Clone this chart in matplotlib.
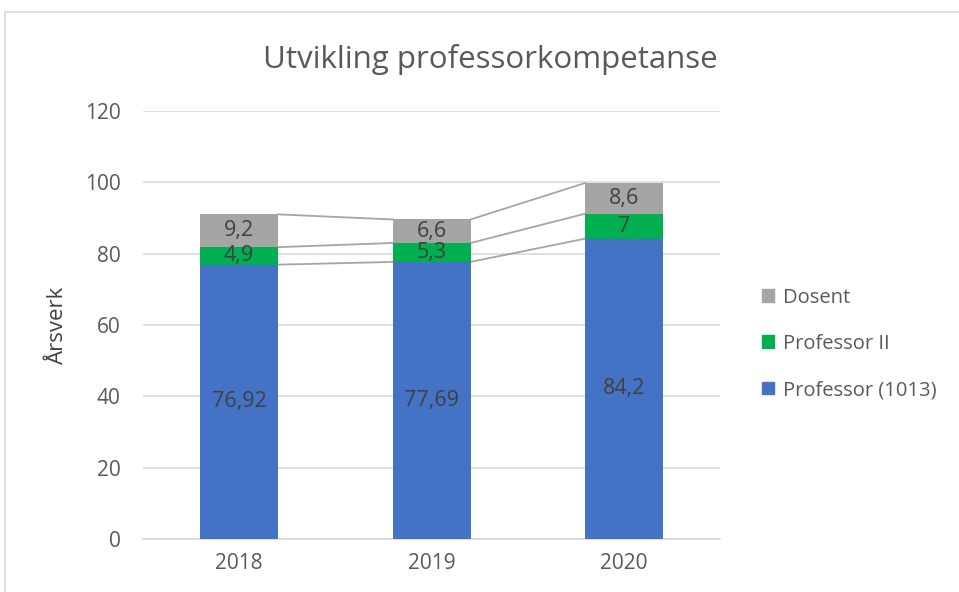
import numpy as np
import matplotlib.pyplot as plt
from matplotlib.patches import Rectangle, Patch

plt.rcParams['font.family'] = ['Open Sans', 'DejaVu Sans']

# Data
years = ['2018', '2019', '2020']
professor = [76.92, 77.69, 84.2]
professor_ii = [4.9, 5.3, 7]
dosent = [9.2, 6.6, 8.6]

prof_labels = ['76,92', '77,69', '84,2']
prof2_labels = ['4,9', '5,3', '7']
dosent_labels = ['9,2', '6,6', '8,6']

c_blue = '#4472C4'
c_green = '#00B050'
c_gray = '#A5A5A5'
txt = '#595959'

fig = plt.figure(figsize=(9.59, 5.92), dpi=100)
ax = fig.add_axes([0.149, 0.0895, 0.602, 0.723])

x = np.arange(len(years))
w = 0.405
prof = np.array(professor)
p2 = np.array(professor_ii)
dos = np.array(dosent)

ax.bar(x, prof, w, color=c_blue, zorder=3)
ax.bar(x, p2, w, bottom=prof, color=c_green, zorder=3)
ax.bar(x, dos, w, bottom=prof + p2, color=c_gray, zorder=3)

# series lines
for level in [prof, prof + p2, prof + p2 + dos]:
    for i in range(len(x) - 1):
        ax.plot([x[i] + w / 2, x[i + 1] - w / 2], [level[i], level[i + 1]],
                color='#A5A5A5', lw=1.3, zorder=2)

# data labels
for i in range(len(x)):
    ax.text(x[i], prof[i] / 2, prof_labels[i], ha='center', va='center',
            fontsize=15.5, color='#404040', zorder=4)
    ax.text(x[i], prof[i] + p2[i] / 2, prof2_labels[i], ha='center', va='center',
            fontsize=15.5, color='#404040', zorder=4)
    ax.text(x[i], prof[i] + p2[i] + dos[i] / 2, dosent_labels[i], ha='center',
            va='center', fontsize=15.5, color='#404040', zorder=4)

ax.set_xlim(-0.5, 2.5)
ax.set_ylim(0, 120)
ax.set_yticks(range(0, 121, 20))
ax.set_xticks(x)
ax.set_xticklabels(years)
ax.yaxis.grid(True, color='#D9D9D9', lw=1.2, zorder=0)
ax.set_axisbelow(True)
for s in ['top', 'right', 'left']:
    ax.spines[s].set_visible(False)
ax.spines['bottom'].set_color('#D9D9D9')
ax.spines['bottom'].set_linewidth(1.2)
ax.tick_params(axis='both', length=0, labelsize=15, colors=txt)
ax.tick_params(axis='y', pad=16)
ax.tick_params(axis='x', pad=10)
ax.set_ylabel('Årsverk', fontsize=16, color='#404040', labelpad=12)

fig.text(0.511, 0.9, 'Utvikling professorkompetanse', ha='center', va='center',
         fontsize=22.5, color=txt)

handles = [Patch(color=c_gray), Patch(color=c_green), Patch(color=c_blue)]
fig.legend(handles, ['Dosent', 'Professor II', 'Professor (1013)'],
           loc='center left', bbox_to_anchor=(0.776, 0.419), frameon=False,
           fontsize=14.5, labelcolor=txt, handlelength=0.6, handleheight=0.6,
           handletextpad=0.45, labelspacing=1.3)

# chart border
fig.patches.append(Rectangle((5 / 959, -0.05), 1.2, 1 - 12 / 592 + 0.05,
                             transform=fig.transFigure, fill=False,
                             edgecolor='#D9D9D9', lw=1.2))

fig.savefig('out.png', dpi=100)
